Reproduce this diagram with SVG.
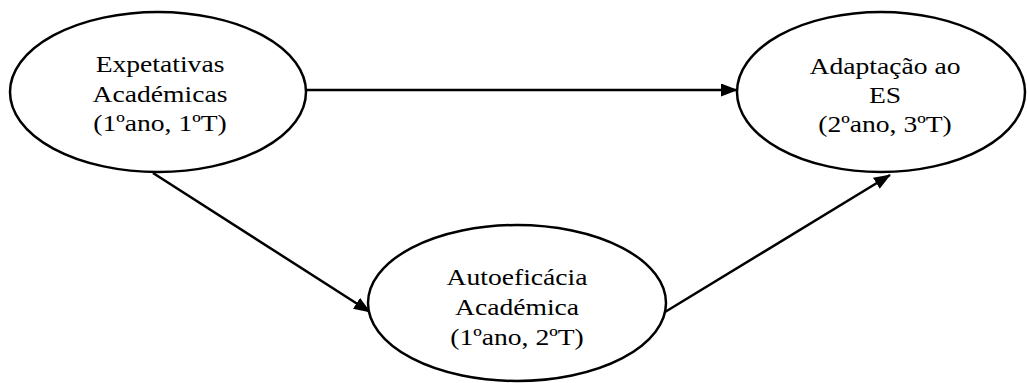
<svg xmlns="http://www.w3.org/2000/svg" width="1027" height="383" viewBox="0 0 1027 383">
<defs>
<marker id="ah" markerWidth="17" markerHeight="13" refX="16" refY="6.5" orient="auto" markerUnits="userSpaceOnUse">
<path d="M0,0 L17,6.5 L0,13 Z" fill="#000"/>
</marker>
<style>
.node ellipse{fill:#fff;stroke:#000;stroke-width:2.5}
.node text{font-family:"Liberation Serif","Times New Roman",serif;font-size:24px;fill:#000;text-anchor:middle}
.edge line{stroke:#000;stroke-width:2.5;marker-end:url(#ah)}
</style>
</defs>
<rect width="1027" height="383" fill="#fff"/>
<g id="connectors" class="edge">
<line x1="306" y1="90" x2="737" y2="90"/>
<line x1="153" y1="173" x2="370" y2="312"/>
<line x1="665" y1="312" x2="890" y2="175"/>
</g>
<g id="expetativas" class="node">
<ellipse cx="158" cy="92" rx="148" ry="80"/>
<g transform="translate(160,0) scale(1.15,1)">
<text x="0" y="72">Expetativas</text>
<text x="0" y="102">Académicas</text>
<text x="0" y="131">(1ºano, 1ºT)</text>
</g>
</g>
<g id="adaptacao" class="node">
<ellipse cx="881" cy="92" rx="144" ry="80"/>
<g transform="translate(885,0) scale(1.15,1)">
<text x="0" y="74">Adaptação ao</text>
<text x="0" y="103">ES</text>
<text x="0" y="132">(2ºano, 3ºT)</text>
</g>
</g>
<g id="autoeficacia" class="node">
<ellipse cx="517" cy="303" rx="149" ry="78"/>
<g transform="translate(517,0) scale(1.15,1)">
<text x="0" y="285">Autoeficácia</text>
<text x="0" y="315">Académica</text>
<text x="0" y="345">(1ºano, 2ºT)</text>
</g>
</g>
</svg>
